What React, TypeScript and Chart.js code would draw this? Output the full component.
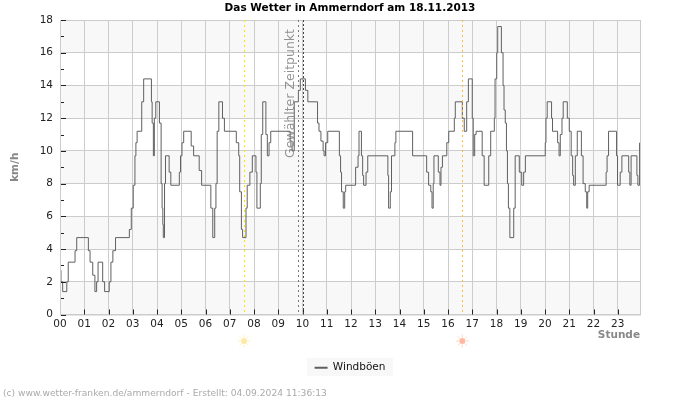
import React, { useEffect, useRef } from "react";
import { Chart, registerables } from "chart.js";

Chart.register(...registerables);

const chartTitle = "Das Wetter in Ammerndorf am 18.11.2013";
const footerText = "(c) www.wetter-franken.de/ammerndorf - Erstellt: 04.09.2024 11:36:13";
const seriesName = "Windböen";
const markerText = "Gewählter Zeitpunkt";
const xAxisTitle = "Stunde";
const yAxisTitle = "km/h";

const gustHours = [
  0, 0.04, 0.11, 0.28, 0.34, 0.62, 0.69, 1.17, 1.24, 1.35, 1.44, 1.51, 1.57, 1.76, 1.84, 2.03, 2.1, 2.18, 2.29, 2.86,
  2.94, 3.02, 3.09, 3.13, 3.18, 3.37, 3.45, 3.77, 3.8, 3.85, 3.89, 3.95, 4.1, 4.17, 4.21, 4.24, 4.26, 4.31, 4.35, 4.5,
  4.57, 4.92, 4.97, 5.03, 5.1, 5.41, 5.51, 5.74, 5.84, 6.22, 6.3, 6.38, 6.43, 6.48, 6.55, 6.7, 6.78, 7.27, 7.37, 7.41,
  7.48, 7.53, 7.67, 7.72, 7.83, 7.93, 8.08, 8.12, 8.26, 8.3, 8.36, 8.49, 8.55, 8.62, 8.69, 9.49, 9.57, 9.66, 9.83, 9.91,
  10.12, 10.22, 10.62, 10.68, 10.76, 10.85, 10.89, 10.95, 11.04, 11.52, 11.57, 11.61, 11.68, 11.74, 11.78, 12.19, 12.29, 12.33, 12.43, 12.48,
  12.52, 12.62, 12.69, 13.52, 13.55, 13.62, 13.67, 13.81, 13.85, 14.54, 15.12, 15.2, 15.29, 15.34, 15.39, 15.42, 15.6, 15.67, 15.71, 15.77,
  15.95, 16.03, 16.26, 16.3, 16.59, 16.67, 16.77, 16.84, 17.0, 17.04, 17.1, 17.16, 17.41, 17.49, 17.68, 17.76, 17.91, 17.94, 18.01, 18.05,
  18.2, 18.27, 18.31, 18.36, 18.41, 18.45, 18.49, 18.55, 18.71, 18.77, 18.94, 19.04, 19.12, 19.19, 20.01, 20.04, 20.09, 20.27, 20.31, 20.52,
  20.58, 20.63, 20.7, 20.75, 20.92, 21.0, 21.08, 21.14, 21.18, 21.25, 21.33, 21.5, 21.57, 21.66, 21.72, 21.76, 21.82, 22.52, 22.56, 22.62,
  22.95, 22.99, 23.1, 23.17, 23.45, 23.5, 23.55, 23.79, 23.83, 23.9,
];

const gustKmh = [
  2.7, 2.0, 1.4, 2.0, 3.2, 3.9, 4.7, 3.9, 3.2, 2.4, 1.4, 2.0, 3.2, 2.0, 1.4, 2.0, 3.2, 3.9, 4.7, 5.2,
  6.5, 7.9, 9.7, 10.5, 11.2, 13.0, 14.4, 13.0, 11.7, 9.7, 12.0, 13.0, 11.7, 8.0, 6.5, 5.5, 4.7, 8.0, 9.7, 8.7,
  7.9, 8.7, 9.7, 10.5, 11.2, 10.3, 9.7, 8.8, 7.9, 6.5, 4.7, 6.5, 8.0, 11.2, 13.0, 12.0, 11.2, 10.5, 9.7, 7.5,
  5.2, 4.7, 6.5, 7.9, 8.7, 9.7, 8.7, 6.5, 8.0, 11.0, 13.0, 11.0, 9.7, 10.5, 11.2, 10.6, 10.0, 13.0, 13.7, 14.4,
  13.7, 13.0, 11.7, 11.2, 10.6, 10.0, 9.7, 10.5, 11.2, 9.7, 8.7, 7.5, 6.5, 7.5, 7.9, 9.0, 9.7, 11.2, 9.7, 8.5,
  7.9, 8.7, 9.7, 8.5, 6.5, 7.5, 9.7, 10.5, 11.2, 9.7, 8.7, 7.9, 7.5, 6.5, 8.0, 9.7, 8.7, 7.9, 9.0, 9.7,
  10.5, 11.2, 12.0, 13.0, 12.0, 11.2, 13.0, 14.4, 12.0, 9.7, 11.0, 11.2, 9.7, 7.9, 9.7, 11.2, 12.0, 14.4, 16.0, 17.6,
  16.0, 14.0, 12.5, 11.7, 10.0, 8.0, 6.5, 4.7, 6.5, 9.7, 8.7, 7.9, 8.7, 9.7, 10.5, 12.0, 13.0, 12.0, 11.2, 10.5,
  9.7, 11.0, 12.0, 13.0, 12.0, 11.2, 9.7, 8.5, 7.9, 9.7, 11.2, 9.7, 8.0, 7.5, 6.5, 7.5, 7.9, 8.7, 9.7, 11.2,
  9.7, 7.9, 8.7, 9.7, 8.7, 7.9, 9.7, 8.5, 7.9, 10.5,
];

const hourTicks = 1;
const lastSampleHour = 23.917;
const yMax = 18;
const sunriseHour = 7.59;
const sunsetHour = 16.59;
const selectedHours = [9.83, 10.03];
const shadedBandStarts = [0, 4, 8, 12, 16];
const minorYTicks = [1, 3, 5, 7, 9, 11, 13, 15, 17];

const FONT = '"DejaVu Sans"';

function drawSun(ctx: CanvasRenderingContext2D, x: number, y: number, core: string, ray: string) {
  ctx.save();
  ctx.strokeStyle = ray;
  ctx.lineWidth = 1;
  for (let i = 0; i < 8; i++) {
    const a = (i * Math.PI) / 4;
    ctx.beginPath();
    ctx.moveTo(x + Math.cos(a) * 3.5, y + Math.sin(a) * 3.5);
    ctx.lineTo(x + Math.cos(a) * 6.5, y + Math.sin(a) * 6.5);
    ctx.stroke();
  }
  ctx.fillStyle = core;
  ctx.beginPath();
  ctx.arc(x, y, 3, 0, Math.PI * 2);
  ctx.fill();
  ctx.restore();
}

const decorations = {
  id: "decorations",
  beforeDraw(chart: any) {
    const { ctx, chartArea: a, scales } = chart;
    const y = scales.y;
    ctx.save();
    ctx.fillStyle = "#f8f8f8";
    shadedBandStarts.forEach((s) => {
      const top = y.getPixelForValue(s + 2);
      ctx.fillRect(a.left, top, a.right - a.left, y.getPixelForValue(s) - top);
    });
    ctx.fillStyle = "#f8f8f8";
    ctx.fillRect(307, 358, 86, 18);
    ctx.fillStyle = "#aaaaaa";
    ctx.font = `9.15px ${FONT}`;
    ctx.textBaseline = "middle";
    ctx.textAlign = "left";
    ctx.fillText(footerText, 3, 393.5);
    ctx.restore();
  },
  afterDatasetsDraw(chart: any) {
    const { ctx, chartArea: a, scales } = chart;
    const x = scales.x;
    const y = scales.y;
    ctx.save();
    ctx.strokeStyle = "#cccccc";
    ctx.lineWidth = 1;
    ctx.strokeRect(a.left + 0.5, a.top + 0.5, a.right - a.left, a.bottom - a.top);

    ctx.strokeStyle = "#222222";
    y.ticks.forEach((t: any) => {
      const py = Math.round(y.getPixelForValue(t.value)) + 0.5;
      ctx.beginPath();
      ctx.moveTo(a.left + 1, py);
      ctx.lineTo(a.left + 6, py);
      ctx.stroke();
    });
    minorYTicks.forEach((v) => {
      const py = Math.round(y.getPixelForValue(v)) + 0.5;
      ctx.beginPath();
      ctx.moveTo(a.left + 1, py);
      ctx.lineTo(a.left + 4, py);
      ctx.stroke();
    });
    x.ticks.forEach((t: any) => {
      if (t.value === 0) return;
      const px = Math.round(x.getPixelForValue(t.value)) + 0.5;
      ctx.beginPath();
      ctx.moveTo(px, a.bottom);
      ctx.lineTo(px, a.bottom - 5);
      ctx.stroke();
    });

    const vline = (h: number, color: string, dash: number[]) => {
      const px = Math.round(x.getPixelForValue(h)) + 0.5;
      ctx.strokeStyle = color;
      ctx.setLineDash(dash);
      ctx.beginPath();
      ctx.moveTo(px, a.top);
      ctx.lineTo(px, a.bottom);
      ctx.stroke();
      ctx.setLineDash([]);
    };
    vline(sunriseHour, "#ffe600", [2, 3]);
    vline(sunsetHour, "#ffbb44", [2, 3]);
    vline(selectedHours[0], "#777777", [2, 3]);
    vline(selectedHours[1], "#444444", [2, 2]);

    ctx.save();
    ctx.translate(x.getPixelForValue(selectedHours[0]) - 7.5, 93.5);
    ctx.rotate(-Math.PI / 2);
    ctx.fillStyle = "rgba(120,120,120,0.8)";
    ctx.font = `12.5px ${FONT}`;
    ctx.textAlign = "center";
    ctx.textBaseline = "middle";
    ctx.fillText(markerText, 0, 0);
    ctx.restore();

    drawSun(ctx, x.getPixelForValue(sunriseHour), 341, "#ffe9a6", "#fff0c4");
    drawSun(ctx, x.getPixelForValue(sunsetHour), 341, "#ffb9a3", "#ffd5c8");
    ctx.restore();
  },
};

export default function App() {
  const ref = useRef<HTMLCanvasElement>(null);
  useEffect(() => {
    const chart = new Chart(ref.current as HTMLCanvasElement, {
      type: "line",
      data: {
        datasets: [
          {
            label: seriesName,
            data: gustHours.map((h, i) => ({ x: h, y: gustKmh[i] })),
            borderColor: "#606060",
            backgroundColor: "#606060",
            borderWidth: 1,
            pointRadius: 0,
            stepped: "before",
            fill: false,
            yAxisID: "y",
          },
        ],
      },
      options: {
        animation: false,
        responsive: false,
        devicePixelRatio: 1,
        layout: { padding: { left: 0, right: 0, top: 0, bottom: 17 } },
        plugins: {
          title: {
            display: true,
            text: chartTitle,
            color: "#000000",
            font: { family: FONT, size: 10.5, weight: "bold", lineHeight: 1.2 },
            padding: { top: 2, bottom: 5.4 },
          },
          legend: {
            display: true,
            position: "bottom",
            labels: {
              color: "#111111",
              font: { family: FONT, size: 10.5 },
              usePointStyle: true,
              pointStyle: "line",
              pointStyleWidth: 13,
              padding: 4,
              boxHeight: 10,
              generateLabels: (c: any) =>
                Chart.defaults.plugins.legend.labels.generateLabels(c).map((l: any) => ({ ...l, lineWidth: 2 })),
            },
          },
          tooltip: { enabled: false },
        },
        scales: {
          x: {
            type: "linear",
            min: 0,
            max: lastSampleHour,
            afterFit: (axis: any) => {
              axis.height = 44;
            },
            border: { display: false },
            grid: { color: "#cccccc", drawTicks: false, lineWidth: 1 },
            title: {
              display: true,
              text: xAxisTitle,
              align: "end",
              color: "#888888",
              font: { family: FONT, size: 10.5, weight: "bold" },
              padding: { top: 0, bottom: 17 },
            },
            ticks: {
              stepSize: hourTicks,
              includeBounds: false,
              autoSkip: false,
              maxRotation: 0,
              padding: 3,
              color: "#222222",
              font: { family: FONT, size: 10.5 },
              callback: (v: any) => String(v).padStart(2, "0"),
            },
          },
          y: {
            type: "linear",
            min: 0,
            max: yMax,
            afterFit: (axis: any) => {
              axis.width = 60;
            },
            border: { display: false },
            grid: { color: "#cccccc", drawTicks: false, lineWidth: 1 },
            title: {
              display: true,
              text: yAxisTitle,
              color: "#888888",
              font: { family: FONT, size: 10.5, weight: "bold" },
              padding: { top: 9, bottom: 0 },
            },
            ticks: {
              stepSize: 2,
              padding: 7,
              color: "#222222",
              font: { family: FONT, size: 10.5 },
            },
          },
          rightGutter: {
            type: "linear",
            position: "right",
            display: true,
            min: 0,
            max: yMax,
            afterFit: (axis: any) => {
              axis.width = 60;
            },
            border: { display: false },
            grid: { display: false, drawTicks: false },
            ticks: { display: false },
          },
        },
      },
      plugins: [decorations],
    } as any);
    return () => chart.destroy();
  }, []);
  return (
    <canvas
      ref={ref}
      width={700}
      height={400}
      style={{ position: "fixed", left: 0, top: 0, width: 700, height: 400 }}
    />
  );
}
